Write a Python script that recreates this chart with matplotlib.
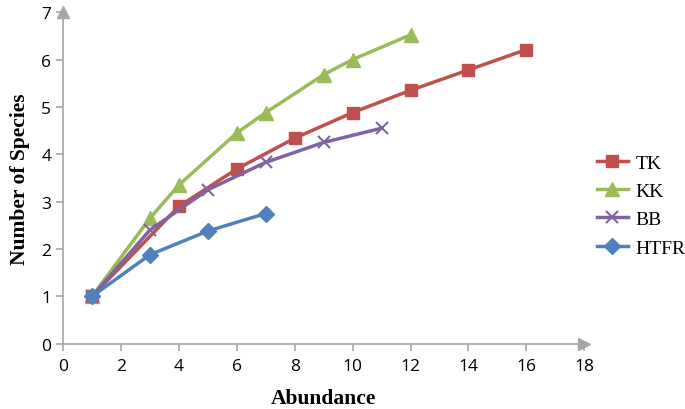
import matplotlib
matplotlib.use("Agg")
import matplotlib.pyplot as plt

tk_x = [1, 4, 6, 8, 10, 12, 14, 16]
tk_y = [1, 2.9, 3.69, 4.34, 4.88, 5.35, 5.78, 6.21]
kk_x = [1, 3, 4, 6, 7, 9, 10, 12]
kk_y = [1, 2.65, 3.35, 4.45, 4.88, 5.68, 6.0, 6.52]
bb_x = [1, 3, 5, 7, 9, 11]
bb_y = [1, 2.4, 3.25, 3.83, 4.25, 4.55]
htfr_x = [1, 3, 5, 7]
htfr_y = [1, 1.88, 2.38, 2.75]

xticks = list(range(0, 19, 2))
yticks = list(range(0, 8))

fig = plt.figure(figsize=(6.85, 4.1), dpi=100)
ax = fig.add_axes([0.092, 0.159, 0.761, 0.809])

ax.plot(tk_x, tk_y, color="#C0504D", lw=2.5, marker="s", ms=9, label="TK", zorder=3)
ax.plot(kk_x, kk_y, color="#9BBB59", lw=2.5, marker="^", ms=10, label="KK", zorder=2)
ax.plot(bb_x, bb_y, color="#8064A2", lw=2.5, marker="x", ms=9, mew=1.5, label="BB", zorder=4)
ax.plot(htfr_x, htfr_y, color="#4F81BD", lw=2.5, marker="D", ms=8, label="HTFR", zorder=5)

ax.set_xlim(0, 18)
ax.set_ylim(0, 7)
ax.set_xticks(xticks)
ax.set_yticks(yticks)
for s in ["top", "right"]:
    ax.spines[s].set_visible(False)
for s in ["left", "bottom"]:
    ax.spines[s].set_color("#A6A6A6")
    ax.spines[s].set_linewidth(1.2)
ax.tick_params(colors="#A6A6A6", labelcolor="black", length=5, width=1.2,
               labelsize=12.5)
ax.tick_params(axis="x", pad=5)
for lab in ax.get_xticklabels() + ax.get_yticklabels():
    lab.set_fontfamily("Open Sans")

# arrowheads
ax.plot(1, 0, marker=">", color="#A6A6A6", ms=9, transform=ax.transAxes, clip_on=False)
ax.plot(0, 1, marker="^", color="#A6A6A6", ms=9, transform=ax.transAxes, clip_on=False)

ax.set_xlabel("Abundance", fontfamily="Liberation Serif", fontweight="bold", fontsize=15.5, labelpad=10)
ax.set_ylabel("Number of Species", fontfamily="Liberation Serif", fontweight="bold", fontsize=15.5, labelpad=8)

leg = fig.legend(loc="upper left", bbox_to_anchor=(0.871, 0.622), frameon=False,
                 prop={"family": "Liberation Serif", "size": 14},
                 handlelength=1.6, labelspacing=0.55, handletextpad=0.4,
                 borderaxespad=0, borderpad=0)

fig.savefig("out.png", dpi=100)
